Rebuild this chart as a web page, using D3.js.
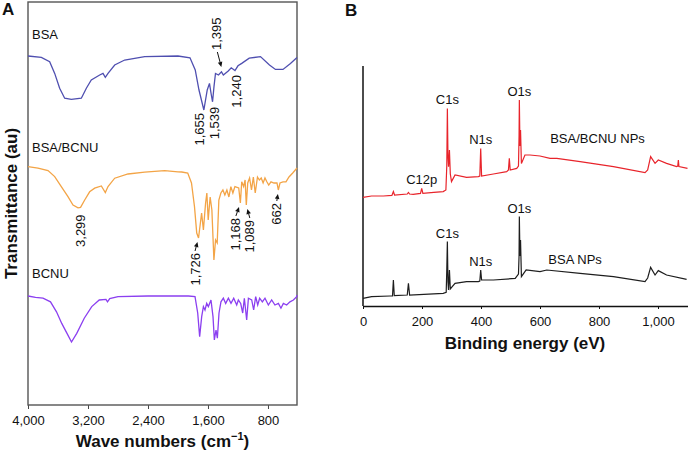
<!DOCTYPE html>
<html lang="en">
<head>
<meta charset="UTF-8">
<title>FTIR and XPS spectra</title>
<script src="https://d3js.org/d3.v7.min.js"></script>
<style>
  body { margin: 0; background: #fff; font-family: "Liberation Sans", Arial, sans-serif; }
  svg text { fill: #111; }
  .tick text { font-size: 13px; font-family: "Liberation Sans", Arial, sans-serif; }
</style>
</head>
<body>
<div id="chart"></div>
<script>
// ---------- data: panel A (FTIR, [wavenumber cm-1, transmittance au]) ----------
const waveTicks = [4000, 3200, 2400, 1600, 800];

const bsaFTIR = [[4000,87.25],[3822,86.9],[3711,85.8],[3644,82.9],[3578,79.2],[3511,76.7],[3422,76.4],[3289,76.7],
  [3267,77.5],[3222,79.2],[3156,81.25],[3044,82.5],[3000,82.9],[2969,81.9],[2933,82.9],[2844,85],[2711,86.25],
  [2444,87.1],[2000,87.25],[1840,86.8],[1770,83.75],[1720,78.75],[1655,73.75],[1610,78.75],[1580,80.4],[1560,78],
  [1539,75.8],[1520,79.6],[1500,82.9],[1460,82.5],[1420,83.3],[1395,82.5],[1330,83.5],[1290,84.3],[1240,83.6],
  [1200,84.8],[1150,85.4],[1050,86.7],[900,87.1],[780,85],[700,83.9],[600,83.9],[500,85.4],[413,86.9]];

const bsaBcnuFTIR = [[4000,59.6],[3867,59.2],[3733,58.6],[3644,57.1],[3556,54.6],[3467,52.1],[3400,50],[3333,49.3],
  [3299,49.4],[3244,51.25],[3178,53.3],[3111,54.2],[3022,54.75],[2969,53.1],[2933,54.6],[2844,56.7],[2667,57.75],
  [2444,58.2],[2178,58.6],[2000,58.3],[1950,58.25],[1870,58],[1820,55.5],[1780,49.6],[1750,43],[1726,41.75],
  [1685,48],[1661,43.75],[1632,50.5],[1615,53],[1597,46.25],[1571,52],[1548,48.75],[1521,36.25],[1499,41.25],
  [1477,40.5],[1455,51.25],[1428,53],[1401,53.75],[1375,52.5],[1348,53.75],[1321,52],[1295,54.6],[1268,53],
  [1241,54.6],[1190,54.25],[1168,50.5],[1150,55.8],[1125,54.6],[1105,56.25],[1089,50],[1070,55.5],[1045,56.75],
  [1020,53.75],[995,57],[970,53],[940,57],[915,56.25],[890,56.75],[865,55.5],[840,56.75],[815,55.8],[790,55],
  [760,55.8],[720,55.5],[680,55.5],[662,53.75],[640,55.5],[600,55.8],[560,55.8],[520,57],[470,58],[413,59.25]];

const bcnuFTIR = [[4000,27.25],[3900,26.9],[3800,26.7],[3700,25.8],[3620,23.3],[3550,20.4],[3480,17.9],[3420,15.75],
  [3350,17.9],[3250,21.7],[3150,24.6],[3050,26.25],[2960,26.4],[2940,25.8],[2910,26.6],[2800,27.1],[2400,27.25],
  [2000,27.25],[1861,27.25],[1773,27.1],[1737,23],[1711,17.1],[1684,22.1],[1661,24.6],[1640,23.75],[1617,25.4],
  [1595,24.6],[1560,26.25],[1533,22.1],[1515,16.25],[1493,18.75],[1475,16.7],[1453,23],[1427,25.8],[1395,26.7],
  [1364,25.4],[1328,26.7],[1293,25.4],[1257,26.7],[1217,25],[1195,26.25],[1164,25.4],[1137,23],[1115,26.7],
  [1084,21.25],[1061,26.7],[1017,26.25],[991,23.75],[964,27.1],[937,25],[911,26.7],[875,25.8],[840,26.7],
  [795,25],[751,26.25],[707,25],[661,25.4],[627,24.2],[595,25.4],[551,25],[507,25.8],[461,26.25],[417,27.1],[413,27.5]];

const bsaMarks = [1655, 1539, 1395, 1240];
const bsaBcnuMarks = [3299, 1726, 1168, 1089, 662];
const ftirNames = ["BSA", "BSA/BCNU", "BCNU"];

// ---------- data: panel B (XPS, [binding energy eV, intensity au]) ----------
const energyTicks = [0, 200, 400, 600, 800, 1000];

const bsaBcnuXPS = [[0,54.3],[29,55],[69,55],[98,55.3],[103,57.2],[107,55.5],[150,56],[154,56.8],[158,56],[170,55.8],
  [195,56.3],[199,58.8],[203,56.3],[240,56.8],[272,57.2],[281,58],[284,70],[286,98.8],[288,75],[290,69.7],[293,78],
  [296,66],[300,62.2],[312,65.5],[351,64.3],[391,64.7],[396,65],[399,78.8],[402,65],[442,66],[487,67.2],[493,68],
  [496,73.8],[499,68],[521,68.8],[527,70],[529,85],[530,103],[532,80],[534,88],[537,71.3],[549,75.5],[566,75.5],
  [600,75],[634,73.8],[657,73.8],[736,72.2],[849,69.7],[956,66.7],[965,68],[975,74.7],[990,71.3],[1001,73],
  [1029,71.3],[1063,69.7],[1067,70],[1069,73],[1071,69.7],[1100,68.8]];

const bsaXPS = [[0,3.8],[29,4.7],[92,5],[100,5],[103,13],[106,5.2],[150,5.5],[154,11.3],[158,5.5],[272,6.3],[282,6.8],
  [284,18],[286,32.2],[288,12],[290,8],[293,18],[296,8.5],[312,11.3],[351,12.2],[391,12.2],[396,12.5],[399,18],
  [402,13],[442,13],[516,13.8],[527,16],[529,25],[530,44.7],[532,25],[534,33],[537,14.7],[553,18],[600,17.2],
  [623,18],[736,16.3],[849,14.7],[956,12.2],[965,14],[975,19.3],[990,15.5],[1001,17.7],[1029,15.5],[1097,13.3]];

const peakNames = ["C1s", "N1s", "O1s"];
const peakEnergies = [286, 399, 530];
const extraPeakName = "C12p";
const extraPeakEnergy = 199;
const xpsNames = ["BSA/BCNU NPs", "BSA NPs"];

// ---------- setup ----------
const svg = d3.select("#chart").append("svg")
  .attr("width", 688).attr("height", 452);

const fmt = d3.format(",");
const valueAt = (series, w) => series.find(p => p[0] === w)[1];

function arrow(g, x1, y1, x2, y2) {
  const a = Math.atan2(y2 - y1, x2 - x1), L = 5, W = 2.3;
  const bx = x2 - L * Math.cos(a), by = y2 - L * Math.sin(a);
  g.append("line").attr("x1", x1).attr("y1", y1).attr("x2", bx).attr("y2", by)
    .attr("stroke", "#111").attr("stroke-width", 1);
  g.append("path")
    .attr("d", `M${x2},${y2}L${bx - W * Math.sin(a)},${by + W * Math.cos(a)}L${bx + W * Math.sin(a)},${by - W * Math.cos(a)}Z`)
    .attr("fill", "#111");
}

// ---------- panel A ----------
const gA = svg.append("g");
const xA = d3.scaleLinear().domain([4000, 413]).range([28, 297]);
const yA = d3.scaleLinear().domain([0, 100.75]).range([405, 2]);

gA.append("g")
  .attr("transform", "translate(0,405)")
  .call(d3.axisBottom(xA).tickValues(waveTicks).tickFormat(fmt).tickSize(4).tickSizeOuter(0).tickPadding(7))
  .call(g => g.select(".domain").remove())
  .call(g => g.selectAll(".tick line").attr("stroke", "#444"));

gA.append("rect")
  .attr("x", xA(4000)).attr("y", yA(100.75))
  .attr("width", xA(413) - xA(4000)).attr("height", yA(0) - yA(100.75))
  .attr("fill", "none").attr("stroke", "#555").attr("stroke-width", 1.4);

const lineA = d3.line().x(d => xA(d[0])).y(d => yA(d[1]));
const ftirSeries = [bsaFTIR, bsaBcnuFTIR, bcnuFTIR];
const ftirColors = ["#4f4fb0", "#f3a446", "#8b3ff0"];
ftirSeries.forEach((s, i) => {
  gA.append("path").datum(s).attr("d", lineA)
    .attr("fill", "none").attr("stroke", ftirColors[i]).attr("stroke-width", 1.3);
});

// series names
const nameBase = [39, 152, 278];
ftirNames.forEach((n, i) => {
  gA.append("text").attr("x", 32).attr("y", nameBase[i])
    .attr("font-size", 13).text(n);
});

// peak annotations
const bsaLayout = { 1655: { dx: -4, gap: 3 }, 1539: { dx: 1.5, gap: 5 }, 1240: { dx: 1, gap: 4.5 },
  1395: { dx: -7, gap: -25, arrow: true } };
const mixLayout = { 3299: { dx: 0, gap: 7 }, 1726: { dx: -3.5, gap: 15, arrow: true },
  1168: { dx: -4.5, gap: 15, arrow: true }, 1089: { dx: 3.5, gap: 15, arrow: true },
  662: { dx: -1.5, gap: 13, arrow: true } };

function annotate(series, marks, layout) {
  marks.forEach(w => {
    const L = layout[w];
    const dipY = yA(valueAt(series, w));
    const cx = xA(w) + L.dx;
    const above = L.gap < 0;
    const ty = dipY + L.gap;
    gA.append("text")
      .attr("transform", `translate(${cx},${ty}) rotate(-90)`)
      .attr("text-anchor", above ? "start" : "end")
      .attr("dy", "0.35em")
      .attr("font-size", 13)
      .text(fmt(w));
    if (L.arrow) {
      if (above) arrow(gA, cx + 1, ty + 2, xA(w) - 2, dipY - 8);
      else arrow(gA, cx, ty - 2, xA(w) + 0.3 * L.dx, dipY + 4);
    }
  });
}
annotate(bsaFTIR, bsaMarks, bsaLayout);
annotate(bsaBcnuFTIR, bsaBcnuMarks, mixLayout);

// axis titles
const tA = gA.append("text")
  .attr("x", (xA(4000) + xA(413)) / 2).attr("y", 447)
  .attr("text-anchor", "middle").attr("font-size", 17).attr("font-weight", "bold");
tA.append("tspan").text("Wave numbers (cm");
tA.append("tspan").attr("font-size", 11).attr("dy", -7).text("\u22121");
tA.append("tspan").attr("dy", 7).text(")");

gA.append("text")
  .attr("transform", `translate(11,${(yA(0) + yA(100.75)) / 2}) rotate(-90)`)
  .attr("text-anchor", "middle").attr("dy", "0.35em")
  .attr("font-size", 17).attr("font-weight", "bold")
  .text("Transmittance (au)");

gA.append("text").attr("x", 2).attr("y", 15)
  .attr("font-size", 17).attr("font-weight", "bold").text("A");

// ---------- panel B ----------
const gB = svg.append("g");
const xB = d3.scaleLinear().domain([0, 1100]).range([363, 687.5]);
const yB = d3.scaleLinear().domain([0, 120]).range([306, 66]);

gB.append("g")
  .attr("transform", "translate(0,306)")
  .call(d3.axisBottom(xB).tickValues(energyTicks).tickFormat(fmt).tickSize(3).tickSizeOuter(0).tickPadding(8))
  .call(g => g.select(".domain").attr("stroke", "#111").attr("stroke-width", 1.5))
  .call(g => g.selectAll(".tick line").attr("stroke", "#111"));

gB.append("line")
  .attr("x1", xB(0)).attr("x2", xB(0)).attr("y1", yB(0)).attr("y2", yB(120))
  .attr("stroke", "#111").attr("stroke-width", 1.5);

const lineB = d3.line().x(d => xB(d[0])).y(d => yB(d[1]));
const xpsSeries = [bsaBcnuXPS, bsaXPS];
const xpsColors = ["#e8242b", "#1e1e1e"];
xpsSeries.forEach((s, i) => {
  gB.append("path").datum(s).attr("d", lineB)
    .attr("fill", "none").attr("stroke", xpsColors[i]).attr("stroke-width", 1.2);

  peakNames.forEach((n, j) => {
    gB.append("text")
      .attr("x", xB(peakEnergies[j])).attr("y", yB(valueAt(s, peakEnergies[j])) - 4)
      .attr("text-anchor", "middle").attr("font-size", 13).text(n);
  });
});

gB.append("text")
  .attr("x", xB(extraPeakEnergy)).attr("y", yB(valueAt(bsaBcnuXPS, extraPeakEnergy)) - 4)
  .attr("text-anchor", "middle").attr("font-size", 13).text(extraPeakName);

// series names
gB.append("text").attr("x", xB(795)).attr("y", yB(75) - 13)
  .attr("text-anchor", "middle").attr("font-size", 13).text(xpsNames[0]);
gB.append("text").attr("x", xB(719)).attr("y", yB(17) - 8.5)
  .attr("text-anchor", "middle").attr("font-size", 13).text(xpsNames[1]);

gB.append("text")
  .attr("x", 525).attr("y", 349)
  .attr("text-anchor", "middle").attr("font-size", 17).attr("font-weight", "bold")
  .text("Binding energy (eV)");

gB.append("text").attr("x", 345).attr("y", 16)
  .attr("font-size", 17).attr("font-weight", "bold").text("B");
</script>
</body>
</html>
